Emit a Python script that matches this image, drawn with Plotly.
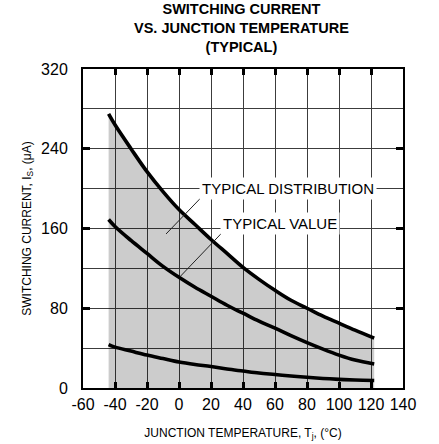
import plotly.graph_objects as go

# Data
temperature = [-44, -40, -30, -20, -10, 0, 10, 20, 30, 40, 50, 60, 70, 80, 90, 100, 110, 122]
upper_limit = [275, 264, 240, 217, 197, 179, 164, 149, 135, 121, 109, 98, 88, 80, 72, 65, 58, 50]
typical_value = [169, 162, 148, 135, 122, 111, 101, 92, 83, 75, 67, 60, 52.5, 45.5, 39, 33, 28, 24]
lower_limit = [43.5, 41, 37, 33, 29.5, 26, 23.5, 21.5, 19, 17, 15, 13.5, 12, 10.7, 9.6, 8.7, 8, 7.5]

x_ticks = [-60, -40, -20, 0, 20, 40, 60, 80, 100, 120, 140]
y_ticks = [0, 80, 160, 240, 320]

title_lines = ["SWITCHING CURRENT", "VS. JUNCTION TEMPERATURE", "(TYPICAL)"]
label_dist = "TYPICAL DISTRIBUTION"
label_value = "TYPICAL VALUE"

FONT = "Liberation Sans, Arial, Helvetica, sans-serif"
GRID = "#3c3c3c"

fig = go.Figure()

# shaded distribution area (under the upper curve)
fig.add_trace(go.Scatter(
    x=temperature, y=upper_limit, mode="lines", line=dict(width=0, shape="spline"),
    fill="tozeroy", fillcolor="rgba(0,0,0,0.2)", hoverinfo="skip", showlegend=False))

for ys in (upper_limit, typical_value, lower_limit):
    fig.add_trace(go.Scatter(
        x=temperature, y=ys, mode="lines",
        line=dict(color="black", width=3.6, shape="spline", smoothing=1.0),
        hoverinfo="skip", showlegend=False))

annotations = [dict(
    text="<br>".join("<b>" + t + "</b>" for t in title_lines),
    xref="paper", yref="paper", x=0.495, y=1.128,
    xanchor="center", yanchor="middle", showarrow=False,
    font=dict(family=FONT, size=14.5, color="black"))]

annotations.append(dict(text=label_dist, x=12.5, y=200, xref="x", yref="y",
                        xanchor="left", yanchor="middle", showarrow=False,
                        bgcolor="white", borderpad=2,
                        font=dict(family=FONT, size=15, color="black")))
annotations.append(dict(text=label_value, x=25.5, y=165, xref="x", yref="y",
                        xanchor="left", yanchor="middle", showarrow=False,
                        bgcolor="white", borderpad=2,
                        font=dict(family=FONT, size=15, color="black")))

# leader lines from the labels to the shaded area / typical curve
shapes = [
    dict(type="line", xref="x", yref="y", x0=16.5, y0=195.5, x1=-8.1, y1=154.5,
         line=dict(color="#222222", width=1)),
    dict(type="line", xref="x", yref="y", x0=30.0, y0=161.0, x1=0.6, y1=111.6,
         line=dict(color="#222222", width=1)),
]

fig.update_layout(
    width=439, height=444,
    margin=dict(l=83, r=36, t=69, b=56, pad=0),
    paper_bgcolor="white", plot_bgcolor="white",
    font=dict(family=FONT, color="black"),
    annotations=annotations,
    shapes=shapes,
    showlegend=False,
    hovermode=False,
)

fig.update_xaxes(
    range=[-60, 140], tickvals=x_ticks, ticktext=[str(v) for v in x_ticks],
    showgrid=True, gridcolor=GRID, gridwidth=1,
    showline=True, linecolor="black", linewidth=2, mirror="ticks",
    ticks="inside", ticklen=6, tickwidth=2.5, tickcolor="black",
    tickfont=dict(size=16, family=FONT, color="black"),
    ticklabelstandoff=1,
    zeroline=False, automargin=False,
    title=dict(text="JUNCTION TEMPERATURE, T<sub>j</sub>, (°C)",
               font=dict(size=12, family=FONT, color="black"), standoff=16),
)
fig.update_yaxes(
    range=[0, 320], tickvals=y_ticks, ticktext=[str(v) for v in y_ticks],
    showgrid=True, gridcolor=GRID, gridwidth=1,
    minor=dict(dtick=40, tick0=0, showgrid=True, gridcolor=GRID, gridwidth=1, ticks=""),
    showline=True, linecolor="black", linewidth=2, mirror="ticks",
    ticks="inside", ticklen=7, tickwidth=2.5, tickcolor="black",
    tickfont=dict(size=16, family=FONT, color="black"),
    ticklabelstandoff=10,
    zeroline=False, automargin=False,
    title=dict(text="SWITCHING CURRENT, I<sub>S</sub>, (μA)",
               font=dict(size=12, family=FONT, color="black"), standoff=7),
)

# remove the default page margin so the figure sits at the window's top-left corner
fig.write_html("out.html", config={"displayModeBar": False},
               post_script="document.body.style.margin='0px';")
